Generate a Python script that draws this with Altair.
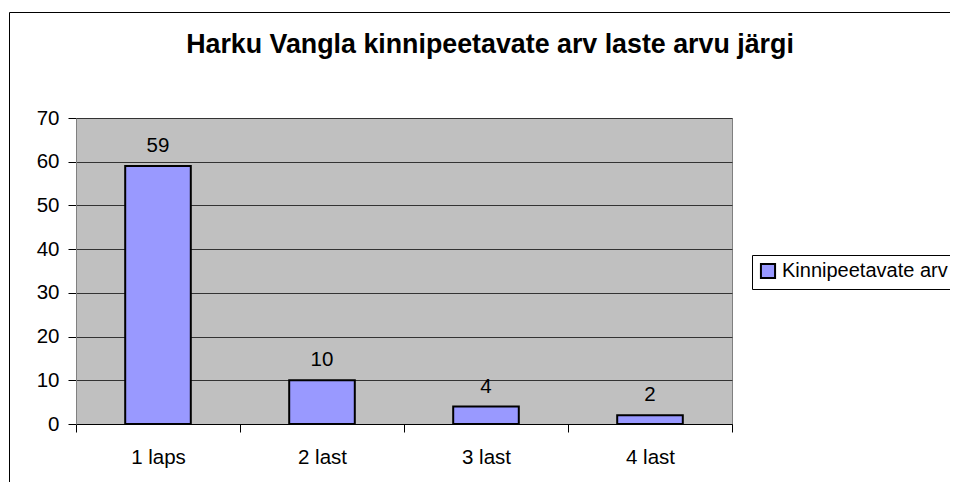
import altair as alt
import pandas as pd

categories = ["1 laps", "2 last", "3 last", "4 last"]
values = [59, 10, 4, 2]
series_name = "Kinnipeetavate arv"
title_text = "Harku Vangla kinnipeetavate arv laste arvu järgi"
y_ticks = [0, 10, 20, 30, 40, 50, 60, 70]

FONT = "Liberation Sans, Arial, sans-serif"
FS = 20.5

df = pd.DataFrame({"category": categories, "value": values, "series": [series_name] * len(categories)})

x_enc = alt.X(
    "category:N",
    sort=categories,
    scale=alt.Scale(paddingInner=0, paddingOuter=0),
    axis=alt.Axis(
        title=None, labelAngle=0, labelFontSize=FS, labelFont=FONT, labelColor="#000",
        domainColor="#000", domainWidth=1, tickColor="#000", tickSize=8,
        tickBand="extent", labelPadding=15, grid=False,
    ),
)
y_enc = alt.Y(
    "value:Q",
    scale=alt.Scale(domain=[0, 70], nice=False),
    axis=alt.Axis(
        title=None, values=y_ticks, labelFontSize=FS, labelFont=FONT, labelColor="#000",
        domainColor="#808080", tickColor="#000", tickSize=8, labelPadding=9,
        grid=True, gridColor="#333", gridWidth=1,
    ),
)

frame_df = pd.DataFrame({"a": [0]})
top_line = alt.Chart(frame_df).mark_rule(stroke="#000", strokeWidth=1).encode(
    x=alt.value(-66.5), x2=alt.value(1200), y=alt.value(-105.5)
)
left_line = alt.Chart(frame_df).mark_rule(stroke="#000", strokeWidth=1).encode(
    x=alt.value(-66.5), y=alt.value(-105.5), y2=alt.value(1200)
)
title_mark = alt.Chart(frame_df).mark_text(
    fontSize=26.8, font=FONT, fontWeight="bold", color="#000",
    align="center", baseline="alphabetic", text=title_text,
).encode(x=alt.value(414), y=alt.value(-65))

bars = alt.Chart(df).mark_bar(
    width=alt.RelativeBandSize(0.4), stroke="#000", strokeWidth=2
).encode(
    x=x_enc,
    y=y_enc,
    color=alt.Color(
        "series:N",
        scale=alt.Scale(range=["#9999FF"]),
        legend=alt.Legend(
            title=None, orient="none", legendX=676, legendY=137,
            labelFontSize=20, labelFont=FONT, labelColor="#000", labelLimit=500,
            symbolType="square", symbolSize=200, symbolStrokeColor="#000",
            symbolStrokeWidth=2, symbolFillColor="#9999FF", labelOffset=4,
            padding=6, strokeColor="#000", fillColor="#fff",
        ),
    ),
)

labels = alt.Chart(df).mark_text(
    dy=-14, baseline="alphabetic", fontSize=FS, font=FONT, color="#000"
).encode(x=alt.X("category:N", sort=categories), y="value:Q", text="value:Q")

chart = alt.layer(top_line, left_line, title_mark, bars, labels).properties(
    width=656,
    height=306,
    padding={"left": 68, "top": 110, "right": 218, "bottom": 58},
    autosize=alt.AutoSizeParams(type="none"),
    background="#fff",
).configure_view(fill="#C0C0C0", stroke="#808080", strokeWidth=1)

chart.save("out.html", embed_options={"renderer": "svg", "actions": False})
